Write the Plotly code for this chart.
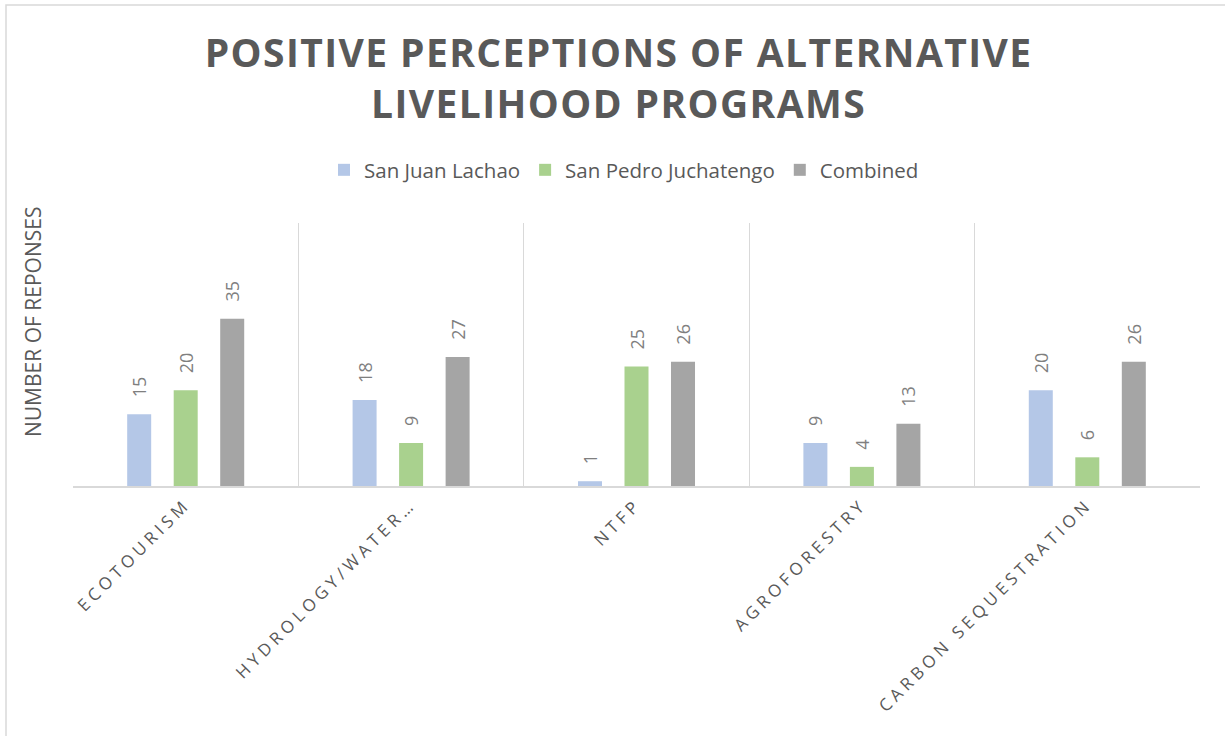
import plotly.graph_objects as go

categories = ["ECOTOURISM", "HYDROLOGY/WATER…", "NTFP", "AGROFORESTRY", "CARBON SEQUESTRATION"]
series_names = ["San Juan Lachao", "San Pedro Juchatengo", "Combined"]
san_juan = [15, 18, 1, 9, 20]
san_pedro = [20, 9, 25, 4, 6]
combined = [35, 27, 26, 13, 26]
colors = ["#B4C7E7", "#A9D18E", "#A5A5A5"]

FONT = "Open Sans"
GREY = "#595959"

# plot area in pixels
L, R, T, B = 73, 1200, 223, 486
W, H = R - L, B - T

fig = go.Figure()
for name, vals, col in zip(series_names, [san_juan, san_pedro, combined], colors):
    fig.add_trace(go.Bar(
        x=categories, y=vals, name=name, marker_color=col, marker_line_width=0,
        text=[str(v) for v in vals], texttemplate="\u00a0\u00a0\u00a0%{text}",
        textposition="outside", textangle=-90, constraintext="none",
        textfont=dict(family=FONT, size=18, color="#7F7F7F"), cliponaxis=False,
    ))

ticktext = ['<span style="letter-spacing:4.3px">%s</span>' % c for c in categories]

fig.update_layout(
    width=1225, height=736,
    paper_bgcolor="white", plot_bgcolor="white",
    margin=dict(l=L, r=1225 - R, t=T, b=736 - B),
    barmode="group", bargap=0.381, bargroupgap=0.484,
    uniformtext=dict(mode=False),
    title=dict(
        text='<span style="letter-spacing:1.4px"><b>POSITIVE PERCEPTIONS OF ALTERNATIVE<br>LIVELIHOOD PROGRAMS</b></span>',
        x=0.505, xanchor="center", y=(736 - 67) / 736, yanchor="top",
        font=dict(family=FONT, size=39, color=GREY),
    ),
    legend=dict(orientation="h", x=(624 - L) / W, xanchor="center", y=(B - 170) / H, yanchor="middle",
                font=dict(family=FONT, size=20.5, color=GREY), itemwidth=30,
                traceorder="normal"),
    xaxis=dict(
        type="category", tickmode="array", tickvals=categories, ticktext=ticktext,
        tickangle=-45, tickfont=dict(family=FONT, size=17, color=GREY),
        showgrid=True, gridcolor="#D9D9D9", gridwidth=1, tickson="boundaries",
        showline=True, linecolor="#D9D9D9", linewidth=1.5, ticks="",
    ),
    yaxis=dict(
        range=[0, 55], showgrid=False, showticklabels=False, ticks="", zeroline=False,
        showline=False,
    ),
    annotations=[dict(text="NUMBER OF REPONSES", textangle=-90, xref="paper", yref="paper",
                      x=(33 - L) / W, y=(B - 322) / H, xanchor="center", yanchor="middle",
                      showarrow=False, font=dict(family=FONT, size=21, color=GREY))],
    shapes=[dict(type="rect", xref="paper", yref="paper",
                 x0=(6 - L) / W, x1=(1240 - L) / W,
                 y0=(B - 750) / H, y1=(B - 5) / H,
                 line=dict(color="#D9D9D9", width=1.5), fillcolor="rgba(0,0,0,0)", layer="below")],
)

fig.write_html("out.html", config={"displayModeBar": False},
               post_script="document.body.style.margin='0';")
